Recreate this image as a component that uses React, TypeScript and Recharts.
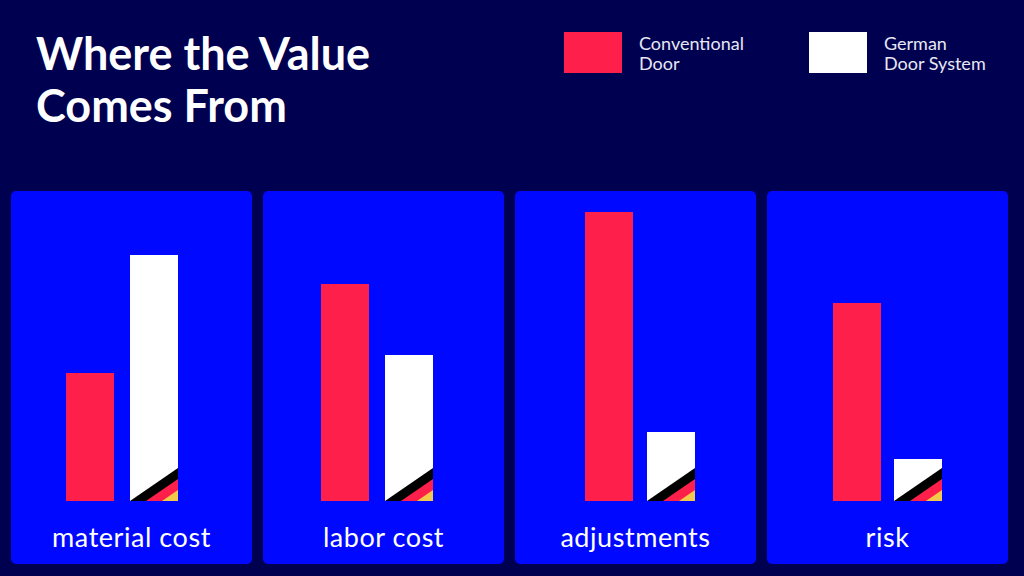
import React from 'react';
import { BarChart, Bar, XAxis, YAxis, Rectangle } from 'recharts';

const categories = ['material cost', 'labor cost', 'adjustments', 'risk'];
const conventionalDoor = [128, 217, 289, 198];
const germanDoorSystem = [246, 146, 69, 42];

// bars are not centred in their cards, so each card gets its own nudge
const cardLayouts = [
  { left: 11, marginLeft: 0, marginRight: 19, gap: 16, labelShift: 9.5 },
  { left: 263, marginLeft: 0, marginRight: 13, gap: 16, labelShift: 6.5 },
  { left: 515, marginLeft: 8, marginRight: 0, gap: 14, labelShift: -4 },
  { left: 767, marginLeft: 0, marginRight: 0, gap: 13, labelShift: 0 },
];

const NAVY = '#000050';
const BLUE = '#0008ff';
const RED = '#ff1f4b';
const GOLD = '#f2c94c';
const FONT = 'Lato, sans-serif';

// white bar with the flag stripes cut across its lower corner
const GermanBar = (props: any) => {
  const { x, y, width, height } = props;
  const b = y + height;
  const r = x + width;
  const corner = (start: number, rise: number) => `${x + start},${b} ${r},${b - rise} ${r},${b}`;
  return (
    <g>
      <Rectangle x={x} y={y} width={width} height={height} fill="#ffffff" />
      <polygon points={corner(0, 33)} fill="#000000" />
      <polygon points={corner(16, 22)} fill={RED} />
      <polygon points={corner(32, 11)} fill={GOLD} />
    </g>
  );
};

const Card = ({ index }: { index: number }) => {
  const layout = cardLayouts[index];
  const data = [
    {
      name: categories[index],
      conventional: conventionalDoor[index],
      german: germanDoorSystem[index],
    },
  ];
  return (
    <div
      style={{
        position: 'absolute',
        left: layout.left,
        top: 191,
        width: 241,
        height: 373,
        background: BLUE,
        borderRadius: 5,
      }}
    >
      <BarChart
        width={241}
        height={373}
        data={data}
        barSize={48}
        barGap={layout.gap}
        margin={{ top: 10, right: layout.marginRight, left: layout.marginLeft, bottom: 0 }}
      >
        <XAxis
          dataKey="name"
          height={63}
          axisLine={false}
          tickLine={false}
          tickMargin={21}
          interval={0}
          tick={{
            fill: '#ffffff',
            fontSize: 27,
            letterSpacing: 0.55,
            fontFamily: FONT,
            dx: layout.labelShift,
          }}
        />
        <YAxis hide domain={[0, 300]} />
        <Bar dataKey="conventional" fill={RED} isAnimationActive={false} />
        <Bar dataKey="german" fill="#ffffff" shape={GermanBar} isAnimationActive={false} />
      </BarChart>
    </div>
  );
};

const LegendItem = ({ left, color, lines }: { left: number; color: string; lines: string[] }) => (
  <>
    <div style={{ position: 'absolute', left, top: 32, width: 58, height: 41, background: color }} />
    <div
      style={{
        position: 'absolute',
        left: left + 75,
        top: 33,
        color: '#e8e8f4',
        fontFamily: FONT,
        fontSize: 18,
        lineHeight: '20px',
        whiteSpace: 'nowrap',
      }}
    >
      {lines.map((l) => (
        <div key={l}>{l}</div>
      ))}
    </div>
  </>
);

export default function App() {
  return (
    <div
      style={{
        position: 'absolute',
        left: 0,
        top: 0,
        width: 1024,
        height: 576,
        overflow: 'hidden',
        background: NAVY,
      }}
    >
      <div
        style={{
          position: 'absolute',
          left: 36,
          top: 27,
          color: '#ffffff',
          fontFamily: FONT,
          fontWeight: 700,
          fontSize: 45,
          lineHeight: '52px',
          whiteSpace: 'nowrap',
        }}
      >
        <div>Where the Value</div>
        <div>Comes From</div>
      </div>
      <LegendItem left={564} color={RED} lines={['Conventional', 'Door']} />
      <LegendItem left={809} color="#ffffff" lines={['German', 'Door System']} />
      {categories.map((c, i) => (
        <Card key={c} index={i} />
      ))}
    </div>
  );
}
